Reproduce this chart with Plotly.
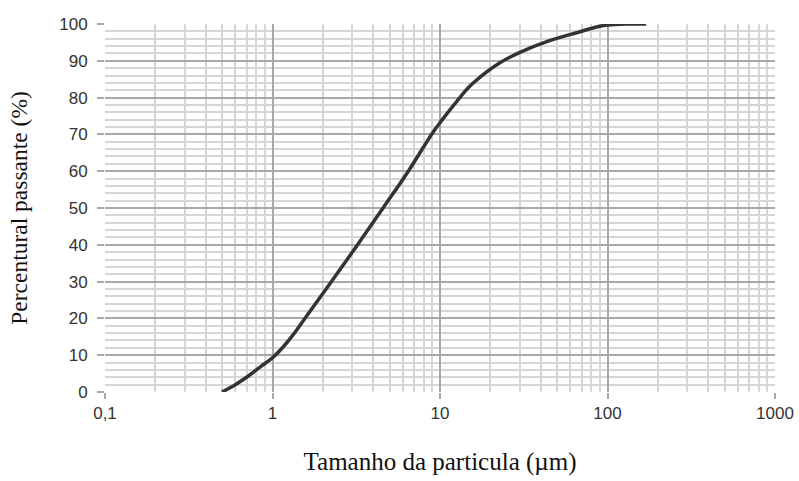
import numpy as np
import plotly.graph_objects as go

# Data
particle_size_um = [0.5, 0.6, 0.7, 0.85, 1.0, 1.15, 1.33, 1.56, 2.25, 3.22, 4.57,
                    6.47, 8.9, 10.0, 12.6, 15.0, 19.0, 22.8, 30.0, 43.4, 68.5,
                    86.0, 100.0, 130.0, 170.0]
percent_passing = [0.0, 2.0, 4.0, 6.9, 9.3, 12.1, 15.6, 20.0, 30.0, 40.0, 50.0,
                   60.0, 70.0, 73.2, 79.0, 83.0, 87.0, 89.5, 92.3, 95.2, 97.9,
                   99.2, 99.7, 100.0, 100.0]

x_tick_vals = [0.1, 1, 10, 100, 1000]
x_tick_text = ["0,1", "1", "10", "100", "1000"]
y_tick_vals = [0, 10, 20, 30, 40, 50, 60, 70, 80, 90, 100]

x_minor_vals = [k * 10.0 ** d for d in range(-1, 3) for k in range(2, 10)]

fig = go.Figure()
fig.add_trace(go.Scatter(
    x=particle_size_um, y=percent_passing, mode="lines",
    line=dict(color="#333333", width=3.5, shape="spline", smoothing=1.0),
    showlegend=False, hoverinfo="skip",
))

MAJOR = "#a8a8a8"
MINOR = "#d6d6d6"
tick_font = dict(family="Liberation Sans, Arial, sans-serif", size=17, color="#333333")
x_title_font = dict(family="Liberation Serif, Times New Roman, serif", size=25, color="#111111")
y_title_font = dict(family="Liberation Serif, Times New Roman, serif", size=23.5, color="#111111")

fig.update_layout(
    width=799, height=481,
    margin=dict(l=105, r=24, t=24, b=89),
    paper_bgcolor="white", plot_bgcolor="white",
    xaxis=dict(
        type="log", range=[-1, 3], automargin=False,
        tickmode="array", tickvals=x_tick_vals, ticktext=x_tick_text,
        ticks="outside", ticklen=6, tickcolor=MAJOR, tickwidth=1.5,
        showgrid=True, gridcolor=MAJOR, gridwidth=1.5,
        minor=dict(tickmode="array", tickvals=x_minor_vals, showgrid=True,
                   gridcolor=MINOR, gridwidth=1.5, ticks=""),
        zeroline=False, showline=False,
        tickfont=tick_font,
        title=dict(text="Tamanho da particula (µm)", font=x_title_font, standoff=30),
    ),
    yaxis=dict(
        range=[0, 100], tickmode="array", tickvals=y_tick_vals, automargin=False,
        ticks="outside", ticklen=7, tickcolor=MAJOR, tickwidth=1.5,
        showgrid=True, gridcolor=MAJOR, gridwidth=1.5,
        minor=dict(dtick=2, showgrid=True, gridcolor=MINOR, gridwidth=1.5, ticks=""),
        zeroline=False, showline=False,
        tickfont=tick_font, ticklabelstandoff=6,
        title=dict(text="Percentural passante (%)", font=y_title_font, standoff=24),
    ),
)

fig.write_html("out.html")
